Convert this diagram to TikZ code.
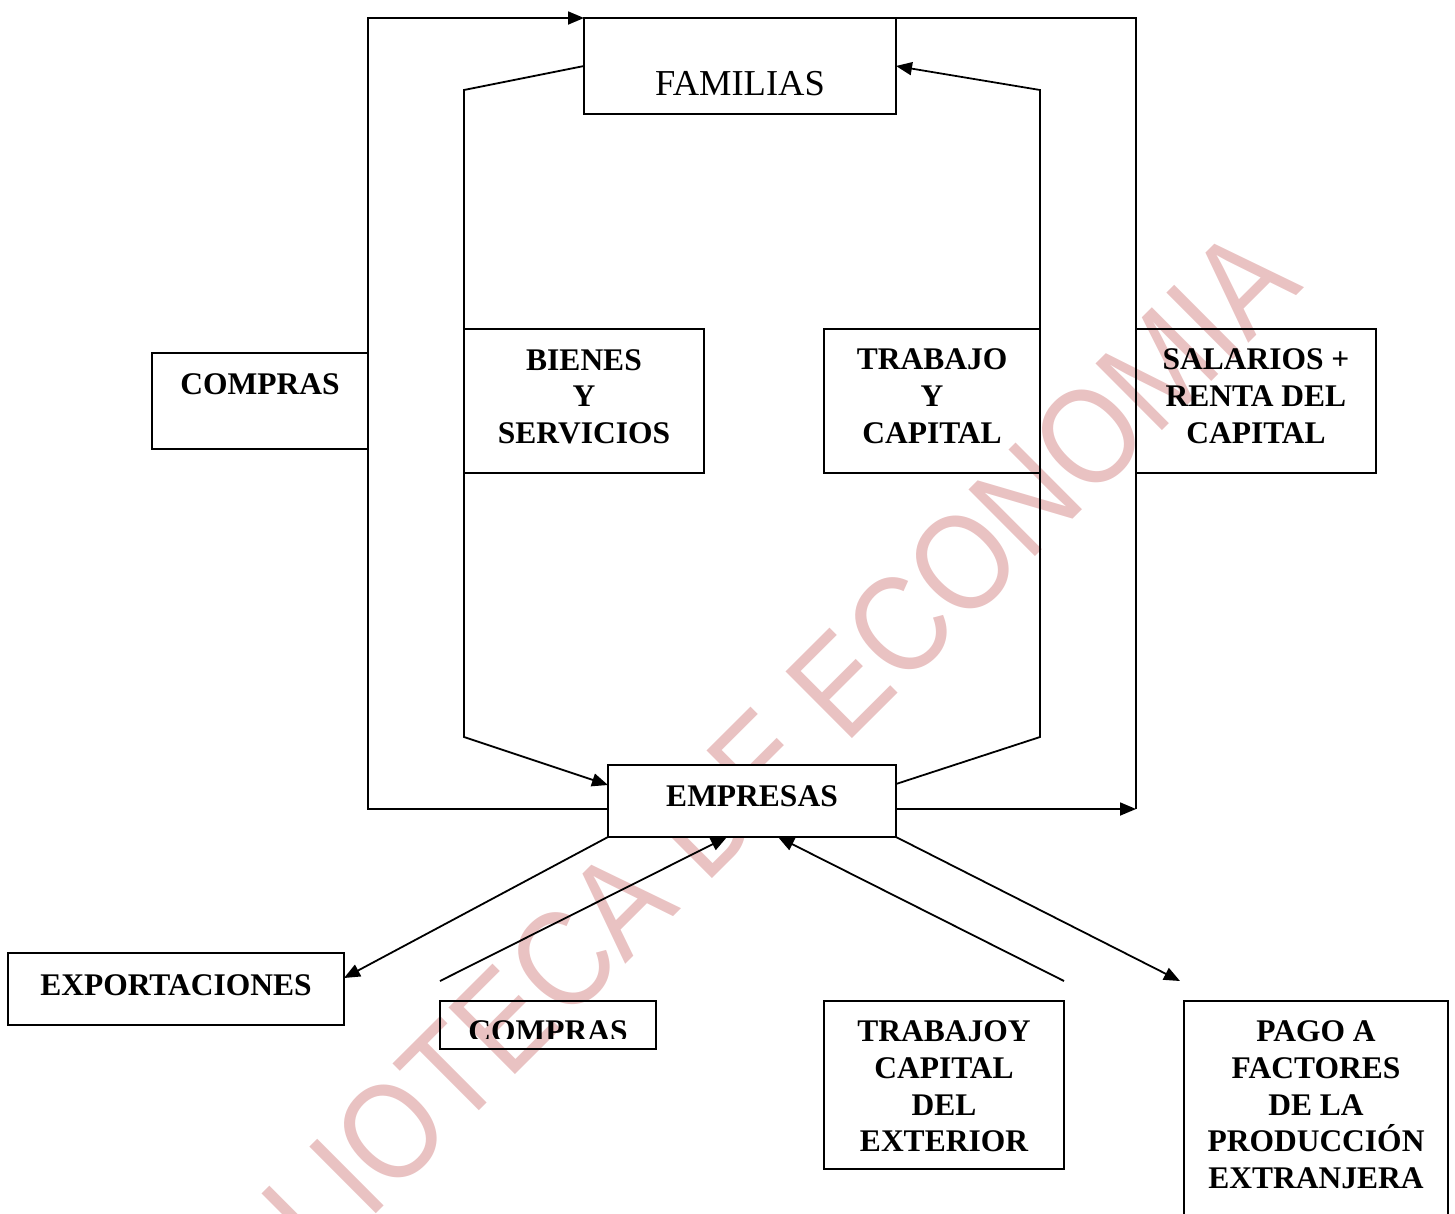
\documentclass[tikz,border=0pt]{standalone}
\usepackage{fontspec}
\setmainfont{Liberation Serif}
\newfontfamily\wmfont{Liberation Sans}
\usetikzlibrary{arrows.meta}
\definecolor{wmpink}{RGB}{233,194,194}
\begin{document}
\begin{tikzpicture}[x=1pt,y=-1pt,
  box/.style={draw, line width=1.8pt, inner sep=0pt, outer sep=0pt},
  lbl/.style={font=\fontsize{31.5}{36.7}\selectfont\bfseries, align=center, inner sep=0pt, anchor=base},
  conn/.style={line width=1.8pt},
  arr/.style={conn, -{Triangle[length=16pt,width=13pt]}}]
\useasboundingbox (0,0) rectangle (1455,1213);
\clip (0,0) rectangle (1455,1213);
% watermark (behind the drawing)
\node[rotate=44.9, yscale=1.15, text=wmpink, font=\wmfont\fontsize{119}{132}\selectfont, inner sep=0pt] (wm) at (712,812) {BIBLIOTECA DE ECONOMIA};
% boxes
\node[box, minimum width=312pt, minimum height=96pt] (fam) at (740,66) {};
\node[box, fill=white, minimum width=288pt, minimum height=72pt] (emp) at (752,801) {};
\node[box, minimum width=216pt, minimum height=96pt] (comL) at (260,401) {};
\node[box, minimum width=240pt, minimum height=144pt] (bie) at (584,401) {};
\node[box, minimum width=216pt, minimum height=144pt] (tra) at (932,401) {};
\node[box, minimum width=240pt, minimum height=144pt] (sal) at (1256,401) {};
\node[box, minimum width=336pt, minimum height=72pt] (exp) at (176,989) {};
\node[box, minimum width=216pt, minimum height=48pt] (comB) at (548,1025) {};
\node[box, minimum width=240pt, minimum height=168pt] (trx) at (944,1085) {};
\node[box, minimum width=264pt, minimum height=240pt] (pag) at (1316,1121) {};
% labels (base anchor = baseline of last line)
\node[lbl, font=\fontsize{36.5}{40}\selectfont] (famt) at (740,95) {FAMILIAS};
\node[lbl] (empt) at (752,806) {EMPRESAS};
\node[lbl] (comLt) at (260,394) {COMPRAS};
\node[lbl] (biet) at (584,443.4) {BIENES\\Y\\SERVICIOS};
\node[lbl] (trat) at (932,443) {TRABAJO\\Y\\CAPITAL};
\node[lbl] (salt) at (1256,443) {SALARIOS +\\RENTA DEL\\CAPITAL};
\node[lbl] (expt) at (176,995) {EXPORTACIONES};
\begin{scope}
  \clip (430,995) rectangle (670,1038.5);
  \node[lbl] (comBt) at (548,1041.5) {COMPRAS};
\end{scope}
\node[lbl] (trxt) at (944,1151.8) {TRABAJOY\\CAPITAL\\DEL\\EXTERIOR};
\node[lbl] (pagt) at (1316,1188.5) {PAGO A\\FACTORES\\DE LA\\PRODUCCIÓN\\EXTRANJERA};
% connectors
\draw[arr] ([yshift=-8pt]emp.west) -- (368,809) -- (368,18) -- (fam.north west);
\draw[conn] (fam.north east) -- (1136,18) -- (1136,809);
\draw[arr] ([yshift=-8pt]emp.east) -- (1136,809);
\draw[arr] (fam.west) -- (464,90) -- (464,737) -- ([yshift=16pt]emp.west);
\draw[arr] ([yshift=17pt]emp.east) -- (1040,737) -- (1040,90) -- (fam.east);
\draw[arr] (emp.south west) -- ([yshift=11pt]exp.east);
\draw[arr] ([yshift=20pt]comB.north west) -- ([xshift=-25pt]emp.south);
\draw[arr] ([yshift=20pt]trx.north east) -- ([xshift=26pt]emp.south);
\draw[arr] (emp.south east) -- ([yshift=20pt,xshift=-4pt]pag.north west);
\end{tikzpicture}
\end{document}
